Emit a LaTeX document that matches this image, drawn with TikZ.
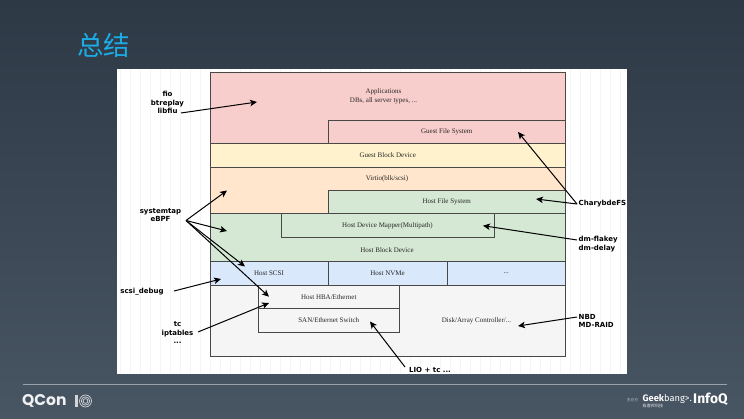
\documentclass[tikz,border=0pt]{standalone}
\usepackage{fontspec}
\setmainfont{Liberation Serif}
\newfontfamily\cjk{Noto Sans CJK SC}
\newfontfamily\lab{DejaVu Sans}
\newfontfamily\logo{Fira Sans}
\newfontfamily\qlogo{Poppins}
\usetikzlibrary{arrows.meta}
\definecolor{bgtop}{HTML}{2E3946}
\definecolor{bgbot}{HTML}{485563}
\definecolor{titleblue}{HTML}{1BAEE6}
\definecolor{boxline}{HTML}{484848}
\definecolor{boxtext}{HTML}{262626}
\definecolor{cred}{HTML}{F8CECC}
\definecolor{cyel}{HTML}{FFF2CC}
\definecolor{corg}{HTML}{FFE6CC}
\definecolor{cgrn}{HTML}{D5E8D4}
\definecolor{cblu}{HTML}{DAE8FC}
\definecolor{cgry}{HTML}{F5F5F5}
\tikzset{
  x=1pt,y=-1pt,
  layer/.style={draw=boxline,line width=.9pt,outer sep=0pt,anchor=north west,inner sep=0pt,text=boxtext,font=\fontsize{7}{8.8}\selectfont,align=center},
  boxlabel/.style={text=boxtext,inner sep=0pt,font=\fontsize{7}{8.8}\selectfont,align=center},
  toollabel/.style={text=black,inner sep=0pt,font=\lab\bfseries\fontsize{7}{8.5}\selectfont,align=center},
  toolarrow/.style={draw=black,line width=1pt,-{Stealth[length=7pt,width=6.5pt,inset=1.8pt]}},
}
\begin{document}
\begin{tikzpicture}
\useasboundingbox (0,0) rectangle (744,419);
\shade[top color=bgtop,bottom color=bgbot,shading angle=0] (0,0) rectangle (744,419);
\node[text=titleblue,font=\cjk\fontsize{26.5}{26.5}\selectfont,inner sep=0pt] (title) at (103.5,45) {总结};
% white sheet
\fill[white] (117,69) rectangle (627,374);
\draw[black!4,line width=.3pt,step=10] (117,69) grid (627,374);
% layers
\node[layer,fill=cred,minimum width=355.5,minimum height=71] (apps) at (210,72.5) {};
\node[layer,fill=cred,minimum width=237.5,minimum height=23.5] (gfs) at (328,120) {Guest File System};
\node[layer,fill=cyel,minimum width=355.5,minimum height=24] (gbd) at (210,143.5) {Guest Block Device};
\node[layer,fill=corg,minimum width=355.5,minimum height=46.5] (virtio) at (210,167) {};
\node[layer,fill=cgrn,minimum width=237.5,minimum height=23.5] (hfs) at (328,190) {Host File System};
\node[layer,fill=cgrn,minimum width=355.5,minimum height=48] (hbd) at (210,213.5) {};
\node[layer,fill=cgrn,minimum width=213,minimum height=24] (dm) at (281,213.5) {Host Device Mapper(Multipath)};
\node[layer,fill=cblu,minimum width=118,minimum height=23.5] (scsi) at (210,261.5) {Host SCSI};
\node[layer,fill=cblu,minimum width=119,minimum height=23.5] (nvme) at (328,261.5) {Host NVMe};
\node[layer,fill=cblu,minimum width=118.5,minimum height=23.5] (more) at (447,261.5) {...};
\node[layer,fill=cgry,minimum width=355.5,minimum height=71] (disk) at (210,285) {};
\node[layer,fill=cgry,minimum width=141.5,minimum height=23.5] (hba) at (258,285) {Host HBA/Ethernet};
\node[layer,fill=cgry,minimum width=141.5,minimum height=24] (san) at (258,308.5) {SAN/Ethernet Switch};
% texts placed off centre in their layers
\node[boxlabel] (appstext) at (383.5,96.7) {Applications\\DBs, all server types, ...};
\node[boxlabel] (virtiotext) at (387,179.3) {Virtio(blk/scsi)};
\node[boxlabel] (hbdtext) at (387,250) {Host Block Device};
\node[boxlabel] (disktext) at (476.5,321) {Disk/Array Controller/...};
% tool labels
\node[toollabel] (fio) at (167.5,102.5) {fio\\btreplay\\libfiu};
\node[toollabel] (stap) at (160.5,215) {systemtap\\eBPF};
\node[toollabel] (sdbg) at (142,291.5) {scsi\_debug};
\node[toollabel] (tc) at (177.5,333) {tc\\iptables\\...};
\node[toollabel] (lio) at (430,370) {LIO + tc ...};
\node[toollabel,anchor=west] (chary) at (578.5,204) {CharybdeFS};
\node[toollabel,anchor=west,align=left] (flakey) at (578.5,244) {dm-flakey\\dm-delay};
\node[toollabel,anchor=west,align=left] (nbd) at (578.5,321) {NBD\\MD-RAID};
% arrow ends
\coordinate (fioS) at (181,113);
\coordinate (fioT) at (257,102);
\coordinate (stapS) at (186,220.5);
\coordinate (stapA) at (227,190.5);
\coordinate (stapB) at (227,231);
\coordinate (stapC) at (245,266.5);
\coordinate (stapD) at (269,296.7);
\coordinate (sdbgS) at (174,291);
\coordinate (sdbgT) at (221,279);
\coordinate (tcS) at (198,332);
\coordinate (tcT) at (269,303);
\coordinate (lioS) at (405,367);
\coordinate (lioT) at (370,321.5);
\coordinate (nbdS) at (577,317);
\coordinate (nbdT) at (518,326);
\coordinate (flakeyS) at (577,240);
\coordinate (flakeyT) at (483,225.7);
\coordinate (charyS) at (577,204);
\coordinate (charyA) at (518,132);
\coordinate (charyB) at (536,199);
\draw[toolarrow] (fioS) -- (fioT);
\draw[toolarrow] (stapS) -- (stapA);
\draw[toolarrow] (stapS) -- (stapB);
\draw[toolarrow] (stapS) -- (stapC);
\draw[toolarrow] (stapS) -- (stapD);
\draw[toolarrow] (sdbgS) -- (sdbgT);
\draw[toolarrow] (tcS) -- (tcT);
\draw[toolarrow] (lioS) -- (lioT);
\draw[toolarrow] (nbdS) -- (nbdT);
\draw[toolarrow] (flakeyS) -- (flakeyT);
\draw[toolarrow] (charyS) -- (charyA);
\draw[toolarrow] (charyS) -- (charyB);
% footer
\draw[color=white!45!bgbot,line width=.6pt] (23,384.5) -- (727,384.5);
\node[text=white!92!bgbot,font=\qlogo\bfseries\fontsize{15.5}{15.5}\selectfont,inner sep=0pt,anchor=west] (qcon) at (22,401) {QCon};
\fill[white!75!bgbot] (74.5,395) rectangle (78,407);
\foreach \r in {6,4.2,2.4}{\draw[white!75!bgbot,line width=.7pt] (85.5,401) circle[radius=\r];}
\node[text=white!70!bgbot,font=\cjk\fontsize{3.7}{3.7}\selectfont,inner sep=0pt] (host) at (632.5,400) {主办方};
\node[text=white,font=\logo\fontsize{9.3}{9.3}\selectfont,inner sep=0pt,anchor=west] (geek) at (642.5,398.5) {\textbf{Geek}bang>.};
\node[text=white!85!bgbot,font=\cjk\fontsize{4.1}{4.1}\selectfont,inner sep=0pt,anchor=west] (geekcn) at (642.5,405.5) {极客邦科技};
\node[text=white,font=\logo\bfseries\fontsize{13.8}{13.8}\selectfont,inner sep=0pt,anchor=west] (infoq) at (693,399.5) {InfoQ};
\end{tikzpicture}
\end{document}
